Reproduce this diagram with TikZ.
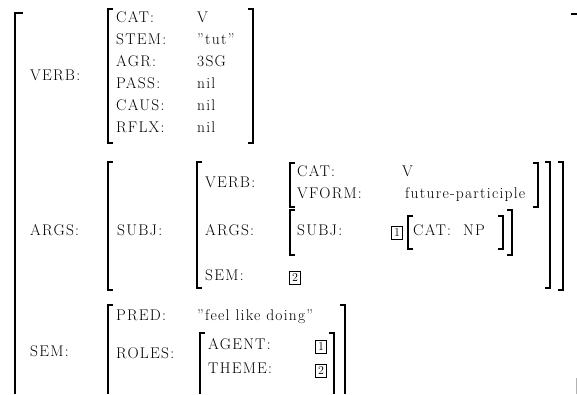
\documentclass[tikz,border=0pt]{standalone}
\usepackage{fontspec}
\setmainfont{Latin Modern Roman}[LetterSpace=8]
% opening and closing square brackets of an attribute-value matrix
\newcommand\brOpen[3]{\draw[brk] (#1+5,#2) -- (#1,#2) -- (#1,#3) -- (#1+5,#3);}
\newcommand\brClose[3]{\draw[brk] (#1-5,#2) -- (#1,#2) -- (#1,#3) -- (#1-5,#3);}
\begin{document}
\begin{tikzpicture}[x=1pt,y=-1pt,
  txt/.style={anchor=mid west, inner sep=0pt, font=\fontsize{15.5}{17}\selectfont},
  brk/.style={line width=1.1pt},
  tagbox/.style={draw, line width=0.8pt, inner sep=0pt, minimum width=11.5pt,
    minimum height=13pt, font=\fontsize{12}{13}\selectfont}]
\useasboundingbox (0,0) rectangle (577,394);

% outer matrix
\draw[line width=1.4pt] (23,13) -- (15,13) -- (15,394);
\draw[line width=1.2pt] (571,14) -- (577,14);
\draw[line width=1pt, gray!60] (576,378) -- (576,394);
\node[txt] (verb) at (30,78) {VERB:};
\node[txt] (args) at (30,233) {ARGS:};
\node[txt] (sem)  at (30,354) {SEM:};

% VERB value
\brOpen{108}{9}{143}
\brClose{253}{9}{143}
\node[txt] (vcat)   at (116,20)  {CAT:};   \node[txt] (vcatv)   at (197,20)  {V};
\node[txt] (vstem)  at (116,42)  {STEM:};  \node[txt] (vstemv)  at (197,42)  {”tut”};
\node[txt] (vagr)   at (116,64)  {AGR:};   \node[txt] (vagrv)   at (197,64)  {3SG};
\node[txt] (vpass)  at (116,86)  {PASS:};  \node[txt] (vpassv)  at (197,86)  {nil};
\node[txt] (vcaus)  at (116,108) {CAUS:};  \node[txt] (vcausv)  at (197,108) {nil};
\node[txt] (vrflx)  at (116,130) {RFLX:};  \node[txt] (vrflxv)  at (197,130) {nil};

% ARGS value
\brOpen{108}{162}{290}
\brClose{563}{162}{290}
\node[txt] (asubj) at (117,233) {SUBJ:};
\brOpen{197}{162}{288}
\brClose{550}{162}{288}
\node[txt] (sverb) at (205,185) {VERB:};
\brOpen{290}{163}{207}
\brClose{538}{163}{207}
\node[txt] (scat)   at (297,174) {CAT:};   \node[txt] (scatv)   at (402,174) {V};
\node[txt] (svform) at (297,196) {VFORM:}; \node[txt] (svformv) at (405,196) {future-participle};
\node[txt] (sargs) at (205,233) {ARGS:};
\brOpen{290}{210}{255}
\brClose{512}{210}{255}
\node[txt] (ssubj) at (297,233) {SUBJ:};
\node[tagbox] (tagA) at (397,233) {1};
\brOpen{408}{216}{249}
\brClose{503}{216}{249}
\node[txt] (ncat) at (413,233) {CAT:};
\node[txt] (ncatv) at (463,233) {NP};
\node[txt] (ssem) at (205,278) {SEM:};
\node[tagbox] (tagB) at (295,278) {2};

% SEM value
\draw[brk] (113,305) -- (108,305) -- (108,394);
\draw[brk] (340,305) -- (345,305) -- (345,394);
\node[txt] (pred) at (116,318) {PRED:};
\node[txt] (predv) at (197,318) {”feel like doing”};
\node[txt] (roles) at (116,356) {ROLES:};
\draw[brk] (205,333) -- (200,333) -- (200,394);
\draw[brk] (329,333) -- (334,333) -- (334,394);
\node[txt] (agent) at (208,347) {AGENT:};
\node[tagbox] (tagC) at (321,347) {1};
\node[txt] (theme) at (208,371) {THEME:};
\node[tagbox] (tagD) at (321,371) {2};
\end{tikzpicture}
\end{document}
